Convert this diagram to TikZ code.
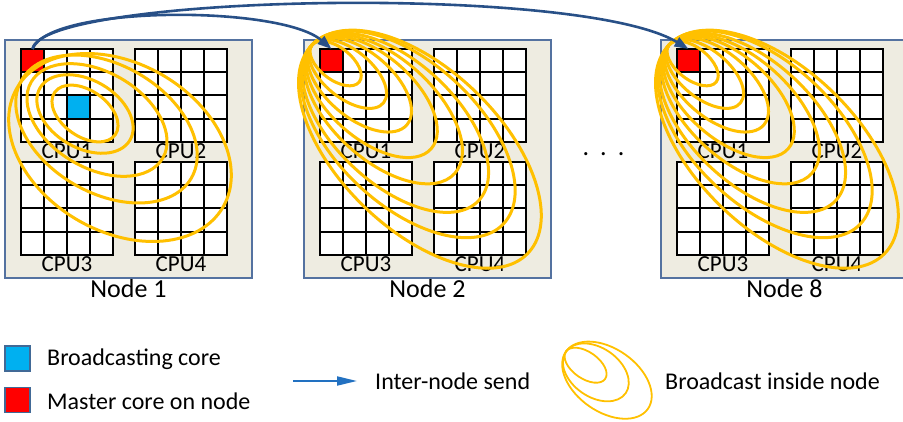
\documentclass[tikz,border=0pt]{standalone}
\usepackage{fontspec}
\setmainfont{Carlito}
\usetikzlibrary{arrows.meta,calc}
\definecolor{boxfill}{RGB}{238,236,225}
\definecolor{boxedge}{RGB}{84,114,160}
\definecolor{gold}{RGB}{255,192,0}
\definecolor{sendblue}{RGB}{40,80,135}
\definecolor{keyblue}{RGB}{34,113,193}
\definecolor{bcastcore}{RGB}{0,176,240}
\definecolor{mastercore}{RGB}{255,0,0}
\definecolor{keyedge}{RGB}{65,105,150}
\begin{document}
\begin{tikzpicture}[x=1pt,y=-1pt,
  nodebox/.style={fill=boxfill, draw=boxedge, line width=1.3pt},
  gridline/.style={black, line width=2pt, line cap=rect},
  cpulabel/.style={font=\fontsize{23}{23}\selectfont, anchor=base, inner sep=0pt},
  nodelabel/.style={font=\fontsize{26}{26}\selectfont, anchor=base, inner sep=0pt},
  keytext/.style={font=\fontsize{24}{24}\selectfont, anchor=base west, inner sep=0pt},
  bcast/.style={draw=gold, line width=3pt},
  keybcast/.style={draw=gold, line width=1.8pt},
  send/.style={draw=sendblue, line width=2.6pt, -{Triangle[length=14pt,width=10pt]}},
  keysend/.style={draw=keyblue, line width=2pt, -{Triangle[length=20pt,width=9pt]}},
  corekey/.style={draw=keyedge, line width=1.3pt, minimum size=25pt, inner sep=0pt}
]
\useasboundingbox (0,0) rectangle (903,422);

% compute nodes: frame, CPU captions, white core grids
\foreach \nx/\lab/\id in {5/1/a, 304/2/b, 661/8/c} {
  \begin{scope}[shift={(\nx,40)}]
    \draw[nodebox] (0,0) rectangle (247,238);
    \node[cpulabel] (cpu\id1) at (62,119) {CPU1};
    \node[cpulabel] (cpu\id2) at (176,119) {CPU2};
    \node[cpulabel] (cpu\id3) at (62,232) {CPU3};
    \node[cpulabel] (cpu\id4) at (176,232) {CPU4};
    \node[nodelabel] (name\id) at (123.5,258) {Node \lab};
    \foreach \gx/\gy in {16/9, 130/9, 16/122, 130/122}
      \fill[white] (\gx,\gy) rectangle ++(92,93);
    \fill[mastercore] (16,9) rectangle ++(23,23.25);
    \coordinate (top\id) at (27.5,9);
    \coordinate (v\id) at (8,5);
  \end{scope}
}
% broadcasting core of node 1
\fill[bcastcore] (67,95.5) rectangle ++(23,23.25);

% core grid lines
\foreach \nx in {5, 304, 661} {
  \begin{scope}[shift={(\nx,40)}]
    \foreach \gx/\gy in {16/9, 130/9, 16/122, 130/122}
      \foreach \k in {0,...,4} {
        \draw[gridline] (\gx+\k*23,\gy) -- ++(0,93);
        \draw[gridline] (\gx,\gy+\k*23.25) -- ++(92,0);
      }
  \end{scope}
}

% broadcast rings inside node 1
\foreach \cx/\cy/\a/\b/\t in {85/113.5/37/23/35, 85/114/52/34/30, 97/120/76/48/30, 106.5/129/98/64/30, 120/147.5/119/84/30}
  \draw[bcast] (\cx,\cy) ellipse [x radius=\a pt, y radius=\b pt, rotate=-\t];

% broadcast rings from the master core of nodes 2 and 8
\foreach \id in {b,c}
  \foreach \a/\b/\t in {30/16/38, 46/24/39, 62/33/40, 79/42/41, 96/51/42, 114/61/43, 131/71/43, 150/80/44}
    \draw[bcast] ($(v\id)+(-\t:\a pt)$) ellipse [x radius=\a pt, y radius=\b pt, rotate=-\t];

% more nodes
\node[font=\fontsize{26}{26}\selectfont, anchor=base, inner sep=0pt] (dots) at (603.5,156) {.\hspace{11pt}.\hspace{11pt}.};

% inter-node sends
\draw[send] (topa) .. controls +(17,-44) and +(-51,-44) .. (topb);
\draw[send] (topa) .. controls +(9,-54) and +(-110,-66) .. (topc);

% key
\node[corekey, fill=bcastcore] (keyb) at (17.5,358.5) {};
\node[corekey, fill=mastercore] (keym) at (17.5,400) {};
\node[keytext] (keybtext) at (47,366) {Broadcasting core};
\node[keytext] (keymtext) at (47,409) {Master core on node};
\coordinate (ks0) at (293,381);
\coordinate (ks1) at (357,381);
\draw[keysend] (ks0) -- (ks1);
\node[keytext] (kstext) at (375,389) {Inter-node send};
\coordinate (kv) at (566,351.5);
\foreach \a/\b in {50/31.5, 36.4/24.5, 23.9/13.3}
  \draw[keybcast] ($(kv)+(-35:\a pt)$) ellipse [x radius=\a pt, y radius=\b pt, rotate=-35];
\node[keytext] (kbtext) at (665,389) {Broadcast inside node};
\end{tikzpicture}
\end{document}
